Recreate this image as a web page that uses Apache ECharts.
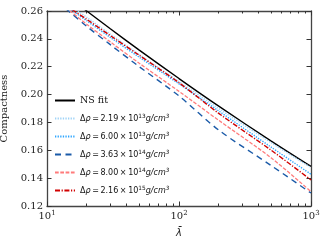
<!DOCTYPE html>
<html>
<head>
<meta charset="utf-8">
<script src="https://cdn.jsdelivr.net/npm/echarts@6/dist/echarts.min.js"></script>
<style>html,body{margin:0;padding:0;background:#fff}#c{width:327px;height:241px}</style>
</head>
<body>
<div id="c"></div>
<script>
// Data
var lambdaVals = [12, 15, 20, 30, 50, 100, 200, 500, 1000];
var nsFit    = [0.2760, 0.2690, 0.2600, 0.2474, 0.2319, 0.2115, 0.1917, 0.1666, 0.1484];
var rho219e13 = [0.2715, 0.2640, 0.2555, 0.2435, 0.2287, 0.2093, 0.1900, 0.1654, 0.1476];
var rho600e13 = [0.2690, 0.2615, 0.2530, 0.2412, 0.2268, 0.2077, 0.1882, 0.1622, 0.1428];
var rho363e14 = [0.2665, 0.2590, 0.2490, 0.2360, 0.2200, 0.1990, 0.1745, 0.1490, 0.1293];
var rho800e14 = [0.2675, 0.2600, 0.2505, 0.2380, 0.2225, 0.2023, 0.1815, 0.1545, 0.1303];
var rho216e15 = [0.2695, 0.2620, 0.2540, 0.2425, 0.2282, 0.2085, 0.1865, 0.1600, 0.1387];
var xMajorTicks = [10, 100, 1000];
var xMinorTicks = [20,30,40,50,60,70,80,90,200,300,400,500,600,700,800,900];
var legendNames = ['NS fit', 'd219e13', 'd600e13', 'd363e14', 'd800e14', 'd216e15'];
var legendMant = {d219e13:'2.19', d600e13:'6.00', d363e14:'3.63', d800e14:'8.00', d216e15:'2.16'};
var legendExp  = {d219e13:'13', d600e13:'13', d363e14:'14', d800e14:'14', d216e15:'15'};

function pairs(ys){ return lambdaVals.map(function(x,i){ return [x, ys[i]]; }); }

var serif = 'DejaVu Serif';
var sans = 'DejaVu Sans';
var frame = '#444';

function xAx(pos, ticks, len, showLine, showLabel){
  return {
    type:'log', logBase:10, min:10, max:1000, position:pos,
    axisLine:{show:showLine, onZero:false, lineStyle:{color:frame, width:1.3}},
    axisTick:{show:true, inside:true, length:len, customValues:ticks, lineStyle:{color:'#333', width:1}},
    axisLabel:{show:showLabel, customValues:xMajorTicks, margin:4, color:'#222', fontFamily:serif, fontSize:10,
      formatter:function(v){ return '10{s|' + Math.round(Math.log10(v)) + '}'; },
      rich:{s:{fontSize:7, verticalAlign:'top', padding:[0,0,6,0], fontFamily:serif, color:'#222'}}},
    splitLine:{show:false}, minorTick:{show:false}
  };
}
function yAx(pos, showLabel){
  return {
    type:'value', min:0.12, max:0.26, interval:0.02, position:pos,
    axisLine:{show:true, onZero:false, lineStyle:{color:frame, width:1.3}},
    axisTick:{show:true, inside:true, length:4.5, lineStyle:{color:'#333', width:1}},
    axisLabel:{show:showLabel, margin:4, color:'#222', fontFamily:serif, fontSize:10,
      formatter:function(v){ return v.toFixed(2); }},
    splitLine:{show:false},
    name: showLabel ? 'Compactness' : '', nameLocation:'middle', nameGap:32,
    nameTextStyle:{fontFamily:serif, fontSize:10, color:'#222'}
  };
}

var xAxes = [xAx('bottom', xMajorTicks, 4.5, true, true), xAx('top', xMajorTicks, 4.5, true, false),
             xAx('bottom', xMinorTicks, 2.5, false, false), xAx('top', xMinorTicks, 2.5, false, false)];
xAxes[0].name = 'λ\u0304';
xAxes[0].nameLocation = 'middle';
xAxes[0].nameGap = 22;
xAxes[0].nameTextStyle = {fontFamily:sans, fontStyle:'italic', fontSize:10, color:'#222'};

function ser(name, ys, color, type, width){
  return {name:name, type:'line', data:pairs(ys), xAxisIndex:0, yAxisIndex:0, showSymbol:false, symbol:'none',
    smooth:0.3, clip:true, lineStyle:{color:color, width:width||1.3, type:type}, itemStyle:{color:color}, z:3};
}

var chart = echarts.init(document.getElementById('c'), null, {renderer:'canvas'});
chart.setOption({
  animation:false,
  grid:{left:47, right:16, top:11, bottom:35, containLabel:false, outerBoundsMode:'none'},
  xAxis:xAxes,
  yAxis:[yAx('left', true), yAx('right', false)],
  legend:{
    show:true, padding:0,
    data:legendNames, orient:'vertical', left:54, top:95, itemWidth:20, itemHeight:8, itemGap:7,
    itemStyle:{opacity:0},
    textStyle:{fontFamily:sans, fontSize:8, color:'#111', lineHeight:11,
      rich:{
        n:{fontFamily:serif, fontSize:9.5, color:'#111', lineHeight:11},
        i:{fontFamily:sans, fontStyle:'italic', fontSize:8, color:'#111', lineHeight:11},
        s:{fontFamily:sans, fontStyle:'italic', fontSize:5.8, verticalAlign:'top', lineHeight:11, color:'#111'},
        e:{fontFamily:sans, fontSize:5.8, verticalAlign:'top', lineHeight:11, color:'#111'}
      }},
    formatter:function(n){
      if(n === 'NS fit') return '{n|NS fit}';
      return 'Δ{i|ρ}\u2009=\u2009' + legendMant[n] + '\u2009×\u200910{e|' + legendExp[n] + '}{i|g/cm}{s|3}';
    }
  },
  series:[
    ser('NS fit', nsFit, '#000000', 'solid', 1.4),
    ser('d219e13', rho219e13, '#9fd3f7', [1.3,1.3], 1.4),
    ser('d600e13', rho600e13, '#2ea6ff', [1.3,1.3], 1.4),
    ser('d363e14', rho363e14, '#1a5aa8', [6,4.5], 1.4),
    ser('d800e14', rho800e14, '#ff7b7b', [3.7,1.6], 1.3),
    ser('d216e15', rho216e15, '#d10000', [5,1.6,1.2,1.6], 1.4)
  ]
});
</script>
</body>
</html>
